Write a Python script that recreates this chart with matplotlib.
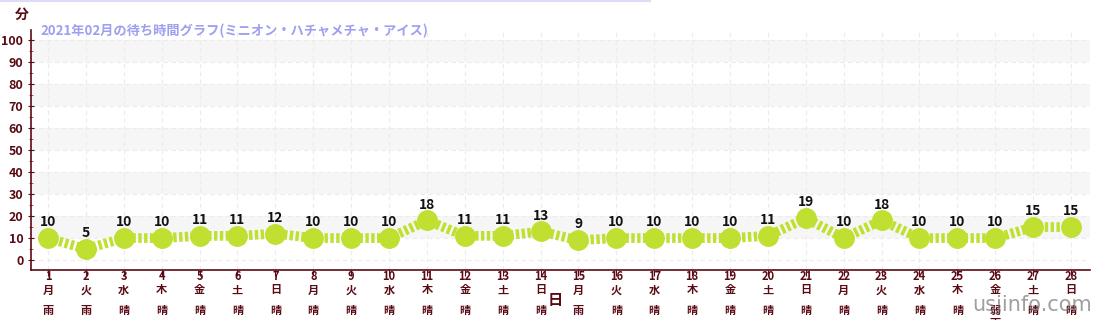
import matplotlib
matplotlib.use("Agg")
import matplotlib.pyplot as plt
from matplotlib.ticker import MultipleLocator
from matplotlib.lines import Line2D
from matplotlib.transforms import blended_transform_factory

plt.rcParams['font.family'] = ['Noto Sans CJK JP', 'DejaVu Sans']

days = list(range(1, 29))
weekdays = ['月', '火', '水', '木', '金', '土', '日'] * 4
weather = ['雨', '雨'] + ['晴'] * 12 + ['雨'] + ['晴'] * 10 + ['弱\n雨', '晴', '晴']
wait = [10, 5, 10, 10, 11, 11, 12, 10, 10, 10, 18, 11, 11, 13, 9, 10, 10, 10, 10, 11,
        19, 10, 18, 10, 10, 10, 15, 15]
title = '2021年02月の待ち時間グラフ(ミニオン・ハチャメチャ・アイス)'

dark = '#5a0a14'
green = '#bfe030'
W, H = 1100, 320

fig = plt.figure(figsize=(11, 3.2), dpi=100)
ax = fig.add_axes([31/W, 50/H, (1090-31)/W, (270-30)/H])
ax.set_xlim(0.55, 28.5)
ax.set_ylim(-4.5, 104.5)

# bands
for lo in range(10, 100, 20):
    ax.axhspan(lo, lo + 10, color='#f6f6f6', zorder=0, lw=0)
for y in range(0, 101, 10):
    ax.axhline(y, color='#ececec', lw=0.8, ls=(0, (4, 3)), zorder=0.5)
for d in days:
    ax.axvline(d, color='#ececec', lw=0.8, ls=(0, (4, 3)), zorder=0.5)

ax.plot(days, wait, color=green, lw=7, ls=(0, (0.35, 0.25)), zorder=2,
        dash_capstyle='butt')
ax.plot(days, wait, ls='none', marker='o', ms=14, color=green, zorder=3)
for d, v in zip(days, wait):
    ax.text(d, v + 4, str(v), ha='center', va='bottom', fontsize=10, fontweight='bold',
            color='#111111', zorder=4)

for s in ['top', 'right']:
    ax.spines[s].set_visible(False)
for s in ['left', 'bottom']:
    ax.spines[s].set_color(dark)
    ax.spines[s].set_linewidth(1.2)

ax.set_yticks(range(0, 101, 10))
ax.yaxis.set_minor_locator(MultipleLocator(5))
ax.tick_params(axis='y', which='major', colors=dark, labelsize=9, length=4, direction='inout')
ax.tick_params(axis='y', which='minor', color='#cc2222', length=3, direction='inout')
for lab in ax.get_yticklabels():
    lab.set_fontweight('bold')

ax.set_xticks(days)
ax.set_xticklabels([])
ax.tick_params(axis='x', colors=dark, length=4, direction='out')

tr = blended_transform_factory(ax.transData, fig.transFigure)
for d, w, wt in zip(days, weekdays, weather):
    ax.text(d, 1 - 277/H, str(d), transform=tr, ha='center', va='center', fontsize=8,
            fontweight='bold', color=dark, clip_on=False)
    ax.text(d, 1 - 290/H, w, transform=tr, ha='center', va='center', fontsize=8,
            fontweight='bold', color=dark, clip_on=False)
    ax.text(d, 1 - 304/H, wt, transform=tr, ha='center', va='top', fontsize=8,
            fontweight='bold', color=dark, clip_on=False, linespacing=1.0)

fig.text(22/W, 1 - 15/H, '分', fontsize=10, fontweight='bold', color=dark,
         ha='center', va='center')
fig.text(555/W, 1 - 300/H, '日', fontsize=11, fontweight='bold', color=dark,
         ha='center', va='center')
fig.text(40/W, 1 - 31/H, title, fontsize=9.5, fontweight='bold', color='#9f9ff0',
         ha='left', va='center')
fig.add_artist(Line2D([0, 650/W], [1 - 1/H, 1 - 1/H], color='#dcdcf8', lw=1.5))
fig.text(1092/W, 1 - 305/H, 'usjinfo.com', fontsize=15, color='#777777', alpha=0.7,
         ha='right', va='center', family='DejaVu Sans')

fig.savefig('out.png', dpi=100)
